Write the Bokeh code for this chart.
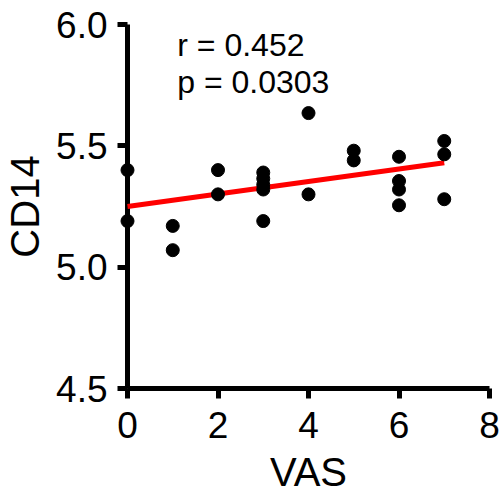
from bokeh.plotting import figure
from bokeh.models import Range1d, ColumnDataSource, FixedTicker, PrintfTickFormatter
from bokeh.core.properties import value
from bokeh.embed import file_html
from bokeh.resources import INLINE

# data
vas = [0, 0, 1, 1, 2, 2, 3, 3, 3, 3, 3, 4, 4, 5, 5, 6, 6, 6, 6, 7, 7, 7]
cd14 = [5.40, 5.19, 5.17, 5.07, 5.40, 5.30, 5.39, 5.365, 5.34, 5.32, 5.19,
        5.635, 5.30, 5.48, 5.44, 5.455, 5.355, 5.32, 5.255, 5.52, 5.465, 5.28]
fit_x = [0, 7]
fit_y = [5.25, 5.43]
stats_labels = ["r = 0.452", "p = 0.0303"]
x_ticks = [0, 2, 4, 6, 8]
y_ticks = [4.5, 5.0, 5.5, 6.0]

FONT = "Liberation Sans"

p = figure(frame_width=362, frame_height=364,
           x_range=Range1d(0, 8), y_range=Range1d(4.5, 6.0),
           output_backend="svg", toolbar_location=None,
           min_border_left=126, min_border_right=12,
           min_border_top=24, min_border_bottom=105)
p.outline_line_color = None
p.grid.visible = False
p.background_fill_color = "white"
p.border_fill_color = "white"

for ax in (p.xaxis[0], p.yaxis[0]):
    ax.axis_line_width = 5
    ax.axis_line_color = "black"
    ax.major_tick_line_width = 5
    ax.major_tick_line_color = "black"
    ax.major_tick_out = 10
    ax.major_tick_in = 0
    ax.minor_tick_out = 0
    ax.minor_tick_in = 0
    ax.major_label_text_font = FONT
    ax.major_label_text_color = "black"
    ax.axis_label_text_font = FONT
    ax.axis_label_text_font_size = "40px"
    ax.axis_label_text_font_style = "normal"
    ax.axis_label_text_color = "black"

p.xaxis.major_label_text_font_size = "37px"
p.yaxis.major_label_text_font_size = "37px"
p.xaxis.ticker = FixedTicker(ticks=x_ticks)
p.yaxis.ticker = FixedTicker(ticks=y_ticks)
p.yaxis.formatter = PrintfTickFormatter(format="%.1f")
p.xaxis.axis_label = "VAS"
p.yaxis.axis_label = "CD14"
p.xaxis.major_label_standoff = 13
p.yaxis.major_label_standoff = 10
p.xaxis.axis_label_standoff = 9
p.yaxis.axis_label_standoff = 6

src = ColumnDataSource(dict(x=vas, y=cd14))
p.line(fit_x, fit_y, line_color="#ff0000", line_width=5, level="overlay")
p.scatter("x", "y", source=src, size=13, color="black", level="overlay")

p.text(x=[1.1, 1.1], y=[5.915, 5.765], text=stats_labels,
       text_font=value(FONT), text_font_size="32px", text_color="black",
       text_align="left", text_baseline="alphabetic")

open("out.html", "w").write(file_html(p, INLINE))
